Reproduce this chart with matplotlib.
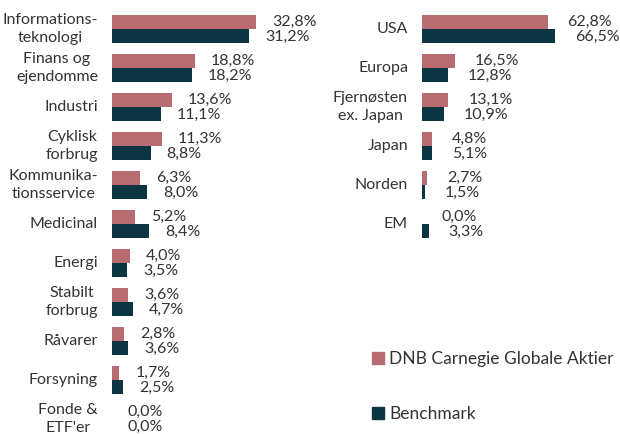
import matplotlib.pyplot as plt
from matplotlib.patches import Patch

# sector allocation (left panel)
sectors = ["Informations-\nteknologi", "Finans og\nejendomme", "Industri", "Cyklisk\nforbrug",
           "Kommunika-\ntionsservice", "Medicinal", "Energi", "Stabilt\nforbrug", "Råvarer",
           "Forsyning", "Fonde &\nETF'er"]
sector_fund = [32.8, 18.8, 13.6, 11.3, 6.3, 5.2, 4.0, 3.6, 2.8, 1.7, 0.0]
sector_bench = [31.2, 18.2, 11.1, 8.8, 8.0, 8.4, 3.5, 4.7, 3.6, 2.5, 0.0]

# regional allocation (right panel)
regions = ["USA", "Europa", "Fjernøsten\nex. Japan", "Japan", "Norden", "EM"]
region_fund = [62.8, 16.5, 13.1, 4.8, 2.7, 0.0]
region_bench = [66.5, 12.8, 10.9, 5.1, 1.5, 3.3]

series_names = ["DNB Carnegie Globale Aktier", "Benchmark"]

PINK = "#b86b71"
DARK = "#0b3540"
TXT = "#333333"

plt.rcParams['font.family'] = ['Lato', 'DejaVu Sans']

W, H = 620, 434
fig = plt.figure(figsize=(W / 100, H / 100), dpi=100)

row0, step = 29, 39.0  # pixel y of first row center, row spacing


def make_axes(left_px, width_px, xmax):
    ax = fig.add_axes([left_px / W, 0, width_px / W, 1])
    ax.set_xlim(0, xmax)
    ax.set_ylim((H - row0) / step, -row0 / step)
    ax.axis("off")
    return ax


def draw(ax, cats, fund, bench, off, label_x):
    bh = 0.36
    for i, (c, f, b) in enumerate(zip(cats, fund, bench)):
        ax.barh(i - 0.19, f, height=bh, color=PINK)
        ax.barh(i + 0.19, b, height=bh, color=DARK)
        for v, y in ((f, i - 0.19), (b, i + 0.19)):
            ax.annotate(f"{v:.1f}%".replace(".", ","), (v, y), xytext=(off, 0),
                        textcoords="offset pixels", ha="left", va="center",
                        fontsize=11.5, color=TXT)
        ax.annotate(c, (0, i), xytext=(label_x, 0), textcoords="offset pixels",
                    ha="right", va="center", multialignment="center",
                    fontsize=11.5, color=TXT, linespacing=1.35)


axl = make_axes(112, 200, 200 / 4.40)
draw(axl, sectors, sector_fund, sector_bench, 16, -14)

axr = make_axes(422, 190, 95)
draw(axr, regions, region_fund, region_bench, 20, -14)

handles = [Patch(color=PINK), Patch(color=DARK)]
fig.legend(handles, series_names, loc="upper left", bbox_to_anchor=(372 / W, 1 - 351 / H),
           frameon=False, labelspacing=2.25, handlelength=0.7,
           handleheight=0.7, handletextpad=0.3, labelcolor=TXT,
           borderpad=0, borderaxespad=0, prop={"size": 12.5})

fig.savefig("out.png", dpi=100)
